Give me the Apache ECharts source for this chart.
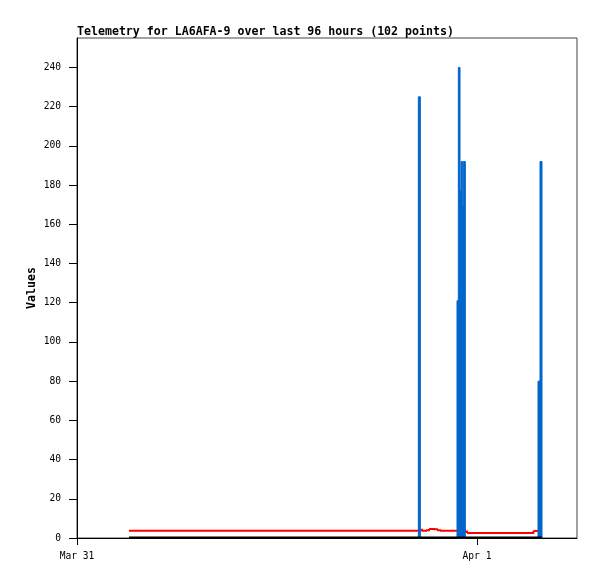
<!DOCTYPE html>
<html>
<head>
<meta charset="utf-8">
<script src="https://cdn.jsdelivr.net/npm/echarts@6/dist/echarts.min.js"></script>
<style>
  html, body { margin: 0; padding: 0; background: #fff; }
  #chart { width: 597px; height: 579px; }
</style>
</head>
<body>
<div id="chart"></div>
<script>
// hours since Mar 31 00:00
const xTickValues = [0, 24]
const xTickLabels = ['Mar 31', 'Apr 1']
const yTickValues = [0, 20, 40, 60, 80, 100, 120, 140, 160, 180, 200, 220, 240]

// blue series: each value holds until the next point
const blueHours = [3.12, 20.48, 20.6, 22.8, 22.88, 22.98, 23.04, 23.12, 23.18, 23.3, 27.66, 27.78, 27.9]
const blueValues = [0, 225, 0, 121, 240, 177, 192, 169, 192, 0, 80, 192, 0]

const redHours = [3.12, 20.61, 20.7, 20.94, 21.12, 21.42, 21.6, 21.78, 23.28, 23.4, 27.38, 27.72]
const redValues = [3.7, 4.2, 3.7, 4.0, 4.6, 4.4, 3.9, 3.7, 3.3, 2.6, 3.6, 3.6]

const blackHours = [3.12, 27.9]
const blackValues = [0.3, 0.3]

// [x, y, nextX, nextY] so each item can draw its own step
const steps = (xs, ys) => xs.slice(0, -1).map((x, i) => [x, ys[i], xs[i + 1], ys[i + 1]])

const font = '"DejaVu Sans Mono", "Liberation Mono", monospace'

const renderBlock = (params, api) => {
  const v = api.value(1)
  if (!v) return null
  const p0 = api.coord([api.value(0), v])
  const p1 = api.coord([api.value(2), 0])
  return {
    type: 'rect',
    shape: { x: p0[0], y: p0[1], width: p1[0] - p0[0], height: p1[1] - p0[1] },
    style: { fill: '#0066cc', stroke: '#0066cc', lineWidth: 1 }
  }
}

const renderStep = (params, api) => {
  const a = api.coord([api.value(0), api.value(1)])
  const b = api.coord([api.value(2), api.value(1)])
  const c = api.coord([api.value(2), api.value(3)])
  return {
    type: 'polyline',
    shape: { points: [a, b, c] },
    style: { stroke: '#ff0000', lineWidth: 2, fill: null }
  }
}

const chart = echarts.init(document.getElementById('chart'))
chart.setOption({
  animation: false,
  title: {
    text: 'Telemetry for LA6AFA-9 over last 96 hours (102 points)',
    left: 72,
    top: 21,
    textStyle: { fontFamily: font, fontSize: 11.6, fontWeight: 'bold', color: '#000' }
  },
  grid: {
    left: 77,
    right: 20,
    top: 38,
    bottom: 41,
    show: true,
    borderColor: '#444',
    borderWidth: 1,
    backgroundColor: '#fff'
  },
  xAxis: {
    type: 'value',
    min: 0,
    max: 30,
    splitLine: { show: false },
    axisLine: { onZero: false, lineStyle: { color: '#000', width: 1 } },
    axisTick: { show: true, length: 7, customValues: xTickValues, lineStyle: { color: '#000' } },
    axisLabel: {
      customValues: xTickValues,
      margin: 13,
      fontFamily: font,
      fontSize: 9.6,
      color: '#000',
      formatter: v => xTickLabels[xTickValues.indexOf(v)] || ''
    }
  },
  yAxis: {
    type: 'value',
    min: 0,
    max: 255,
    name: 'Values',
    nameLocation: 'middle',
    nameGap: 39,
    nameMoveOverlap: false,
    nameTextStyle: { fontFamily: font, fontSize: 11.6, fontWeight: 'bold', color: '#000' },
    splitLine: { show: false },
    axisLine: { lineStyle: { color: '#000', width: 1 } },
    axisTick: { show: true, length: 8, customValues: yTickValues, lineStyle: { color: '#000' } },
    axisLabel: {
      customValues: yTickValues,
      margin: 16,
      fontFamily: font,
      fontSize: 9.6,
      color: '#000'
    }
  },
  series: [
    {
      name: 'red',
      type: 'custom',
      z: 2,
      renderItem: renderStep,
      data: steps(redHours, redValues)
    },
    {
      name: 'blue',
      type: 'custom',
      z: 3,
      renderItem: renderBlock,
      data: steps(blueHours, blueValues)
    },
    {
      name: 'black',
      type: 'line',
      showSymbol: false,
      z: 4,
      lineStyle: { color: '#000', width: 2 },
      data: blackHours.map((x, i) => [x, blackValues[i]])
    }
  ]
})
</script>
</body>
</html>
